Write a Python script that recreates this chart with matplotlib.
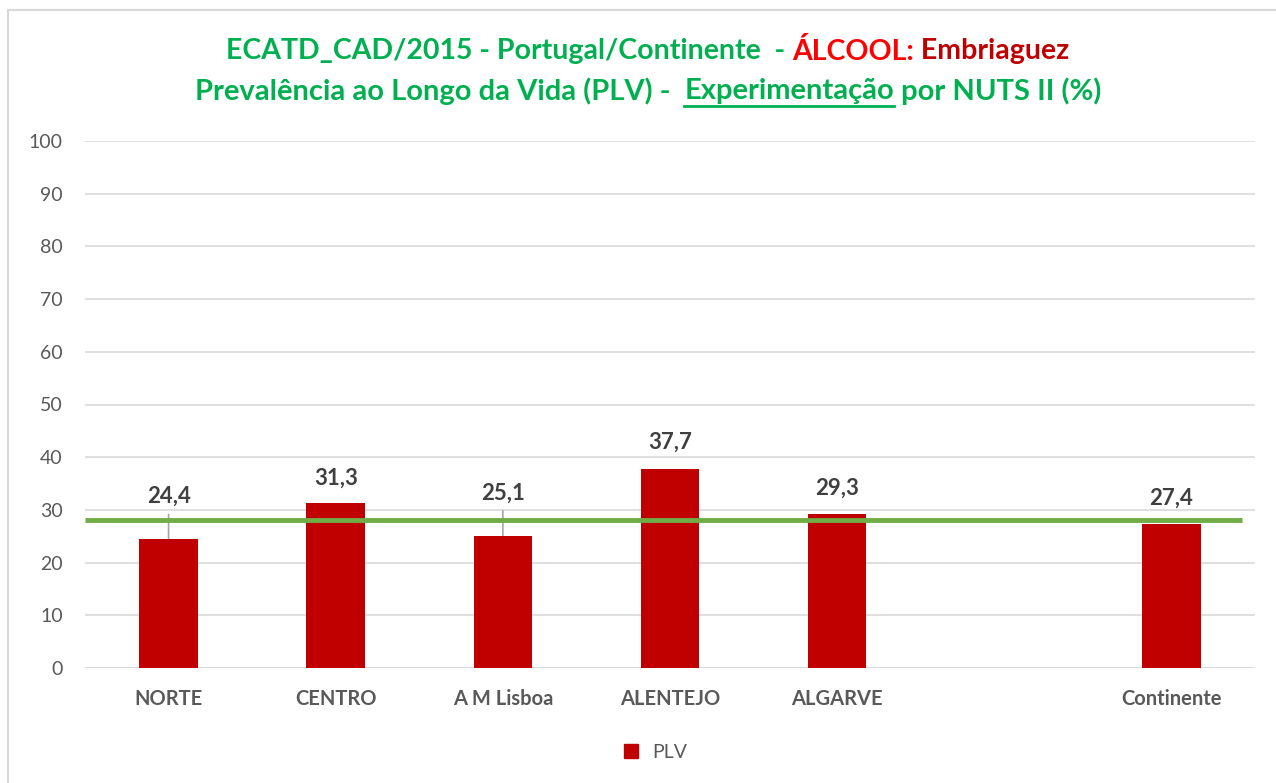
import matplotlib
matplotlib.use("Agg")
import matplotlib.pyplot as plt
from matplotlib.patches import Rectangle
from matplotlib.lines import Line2D

plt.rcParams['font.family'] = ['Lato', 'DejaVu Sans']

categories = ["NORTE", "CENTRO", "A M Lisboa", "ALENTEJO", "ALGARVE", "", "Continente"]
values = [24.4, 31.3, 25.1, 37.7, 29.3, None, 27.4]
value_labels = ["24,4", "31,3", "25,1", "37,7", "29,3", "", "27,4"]
reference_line = 28.1
series_name = "PLV"
yticks = list(range(0, 101, 10))

BAR = "#C00000"
GREEN = "#00B050"
LINEGREEN = "#70AD47"

W, H = 1276, 783
fig = plt.figure(figsize=(W / 100, H / 100), dpi=100)
ax = fig.add_axes([85 / W, 1 - 668 / H, (1255 - 85) / W, (668 - 141) / H])

xs = [i for i, v in enumerate(values) if v is not None]
vs = [v for v in values if v is not None]
ax.bar(xs, vs, width=0.35, color=BAR, zorder=3)

ax.set_xlim(-0.5, len(categories) - 0.5)
ax.set_ylim(0, 100)
ax.set_yticks(yticks)
ax.set_xticks(range(len(categories)))
ax.set_xticklabels(categories, fontsize=14.5, fontweight='bold', color='#595959')
ax.tick_params(axis='x', length=0, pad=15)
ax.tick_params(axis='y', length=0, pad=16, labelsize=14, labelcolor='#595959')
ax.grid(axis='y', color='#D9D9D9', linewidth=1.2, zorder=0)
for s in ax.spines.values():
    s.set_visible(False)
ax.axhline(0, color='#D9D9D9', linewidth=1.2, zorder=1)

# reference line
ax.plot([-0.5, 6.42], [reference_line, reference_line], color=LINEGREEN, linewidth=3.5, zorder=4, solid_capstyle='butt')

# data labels (offset in pixels above bar top), with leader lines for moved labels
offsets = {0: 43, 1: 25, 2: 43, 3: 27, 4: 25, 6: 25}
leaders = {0: 25, 2: 25}
for i in xs:
    v = values[i]
    off = offsets[i]
    ax.annotate(value_labels[i], (i, v), xytext=(0, off * 0.72), textcoords='offset points',
                ha='center', va='center', fontsize=16, fontweight='bold', color='#404040', zorder=5)
    if i in leaders:
        ax.annotate("", (i, v), xytext=(0, leaders[i] * 0.72), textcoords='offset points',
                    arrowprops=dict(arrowstyle='-', color='#A6A6A6', lw=1.2, shrinkA=0, shrinkB=0), zorder=2)

# legend
leg_handle = Line2D([], [], marker='s', linestyle='none', markersize=10, markerfacecolor=BAR, markeredgecolor=BAR)
fig.legend([leg_handle], [series_name], loc='center', bbox_to_anchor=(649 / W, 1 - 752 / H),
           frameon=False, fontsize=14, labelcolor='#595959', handletextpad=0.1)

# chart border
fig.add_artist(Rectangle((8 / W, -0.1), 1.2, 1 - 10 / H + 0.1, transform=fig.transFigure,
                         fill=False, edgecolor='#D9D9D9', linewidth=1.5))

# multicolor title
fig.canvas.draw()
renderer = fig.canvas.get_renderer()


def rich_line(parts, y_px, size):
    texts = []
    for txt, col, ul in parts:
        t = fig.text(0, 1 - y_px / H, txt, fontsize=size, fontweight='bold', color=col, va='center', ha='left')
        texts.append((t, ul, col))
    widths = [t.get_window_extent(renderer).width for t, _, _ in texts]
    total = sum(widths)
    x = 648 - total / 2
    for (t, ul, col), w in zip(texts, widths):
        t.set_x(x / W)
        if ul:
            fig.add_artist(Line2D([x / W, (x + w) / W], [1 - (y_px + 15) / H] * 2,
                                  transform=fig.transFigure, color=col, linewidth=2))
        x += w


rich_line([("ECATD_CAD/2015 - Portugal/Continente  - ", GREEN, False),
           ("ÁLCOOL:", "#FF0000", False),
           (" Embriaguez", BAR, False)], 51, 20.5)
rich_line([("Prevalência ao Longo da Vida (PLV) -  ", GREEN, False),
           ("Experimentação", GREEN, True),
           (" por NUTS II (%)", GREEN, False)], 91, 21)

fig.savefig("out.png", dpi=100)
